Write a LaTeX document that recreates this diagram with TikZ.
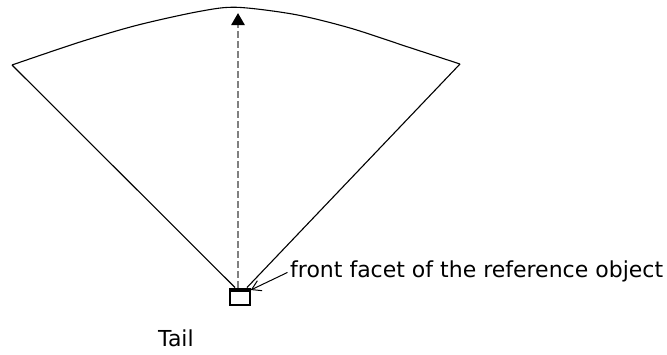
\documentclass[tikz,border=0pt]{standalone}
\usepackage{fontspec}
\setmainfont{DejaVu Sans}
\usetikzlibrary{arrows.meta}
\tikzset{
  edgeline/.style={line width=1.1pt, black},
  axisarrow/.style={line width=2.6pt, color=black!50, dash pattern=on 6.5pt off 3.5pt,
    -{Triangle[length=12pt,width=13pt,color=black,fill=black]}},
  leader/.style={line width=1pt, -{Straight Barb[length=9pt,width=11pt]}},
  objbox/.style={draw, line width=1.5pt, minimum width=20pt, minimum height=16.7pt, inner sep=0pt},
  lbltext/.style={font=\fontsize{22}{26}\selectfont, inner sep=0pt, anchor=base west},
}
\begin{document}
\begin{tikzpicture}[x=1pt,y=-1pt]
\useasboundingbox (0,0) rectangle (667,354);
% reference object
\node[objbox] (obj) at (240,296.6) {};
\fill (obj.north west) rectangle ([yshift=-4pt]obj.north east);
% field of view
\coordinate (L) at (12,65);
\coordinate (R) at (460,64);
\coordinate (top) at (238,13);
\draw[edgeline, line join=round] ([xshift=-5pt]obj.north) -- (L)
  plot[smooth, tension=0.5] coordinates {(12,65) (80,42) (138,25) (200,11.3) (237,7.3) (295,14.5) (350,28) (408,47) (460,64)}
  (R) -- ([xshift=7pt]obj.north);
% axis arrow
\draw[axisarrow] ([xshift=-2pt]obj.north) -- (top);
% labels
\node[lbltext] (lbl) at (290,277) {front facet of the reference object};
\draw[leader] ([xshift=-2.5pt,yshift=-1.5pt]lbl.west) -- ([yshift=-2.5pt]obj.north east);
\node[lbltext] (tail) at (158,346) {Tail};
\end{tikzpicture}
\end{document}
